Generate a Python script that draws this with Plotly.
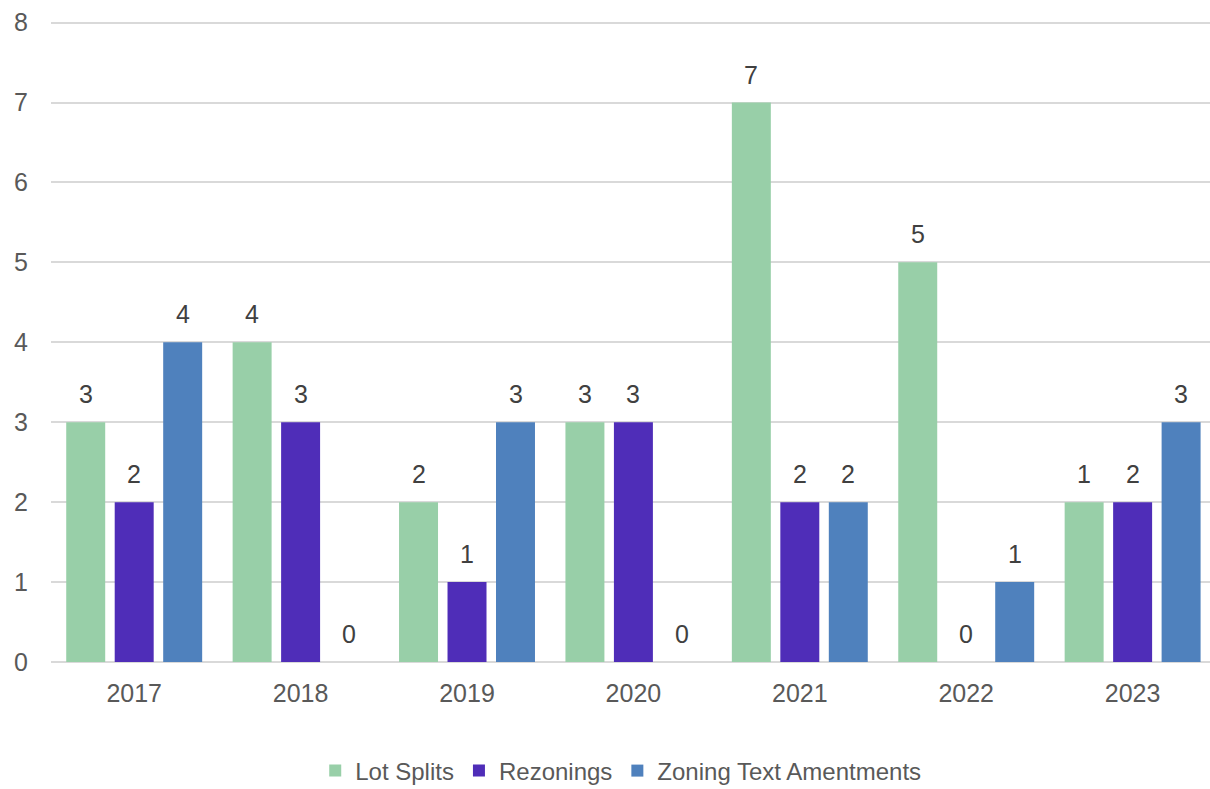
import plotly.graph_objects as go

years = ["2017", "2018", "2019", "2020", "2021", "2022", "2023"]
lot_splits = [3, 4, 2, 3, 7, 5, 2]
lot_splits_labels = ["3", "4", "2", "3", "7", "5", "1"]
rezonings = [2, 3, 1, 3, 2, 0, 2]
rezonings_labels = ["2", "3", "1", "3", "2", "0", "2"]
zoning_text = [4, 0, 3, 0, 2, 1, 3]
zoning_text_labels = ["4", "0", "3", "0", "2", "1", "3"]

series = [
    ("Lot Splits", lot_splits, lot_splits_labels, "#98CFA8", -48.5),
    ("Rezonings", rezonings, rezonings_labels, "#4F2DB8", 0),
    ("Zoning Text Amentments", zoning_text, zoning_text_labels, "#4F81BD", 48.5),
]

font_family = "Liberation Sans, Arial, sans-serif"

fig = go.Figure()
annotations = []
for name, vals, labels, color, shift in series:
    fig.add_trace(go.Bar(
        x=years, y=vals, name=name, marker_color=color,
        marker_line_width=0,
    ))
    for i, (v, lab) in enumerate(zip(vals, labels)):
        annotations.append(dict(
            x=i, y=v, xref="x", yref="y", text=lab, showarrow=False,
            xshift=shift, yshift=28, yanchor="middle", xanchor="center",
            font=dict(family=font_family, size=25, color="#404040"),
        ))

fig.update_layout(
    width=1210, height=789,
    margin=dict(l=51, r=0, t=21, b=127),
    paper_bgcolor="white", plot_bgcolor="white",
    barmode="group", bargap=0.126, bargroupgap=0.196,
    font=dict(family=font_family, size=25, color="#595959"),
    showlegend=True,
    annotations=annotations,
    legend=dict(orientation="h", x=0.513, xanchor="center", xref="container",
                y=1 - 771 / 789, yanchor="middle", yref="container",
                font=dict(size=24, color="#595959"),
                itemwidth=30, tracegroupgap=0),
    xaxis=dict(type="category", range=[-0.5, 6.465], showgrid=False, showline=False,
               ticks="", tickfont=dict(size=25, color="#595959"),
               ticklabelstandoff=14),
    yaxis=dict(range=[0, 8.02], dtick=1, showgrid=True, gridcolor="#D9D9D9",
               gridwidth=2, zeroline=True, zerolinecolor="#D9D9D9", zerolinewidth=2,
               showline=False, ticks="", tickfont=dict(size=25, color="#595959"),
               ticklabelstandoff=22),
)

fig.write_html("out.html")
